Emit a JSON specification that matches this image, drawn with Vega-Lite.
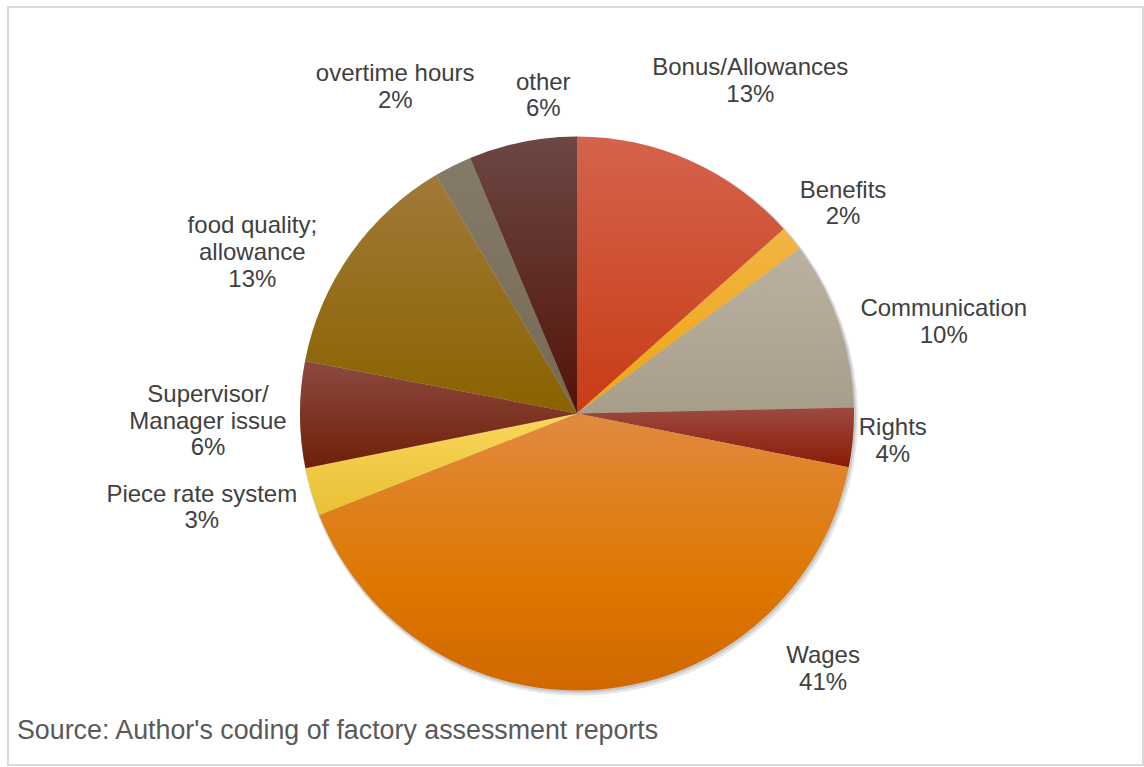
{
  "$schema": "https://vega.github.io/schema/vega-lite/v6.json",
  "autosize": "none",
  "width": 1135,
  "height": 758,
  "padding": {"left": 8, "top": 7, "right": 1, "bottom": 2},
  "background": "white",
  "view": {"stroke": "#D9D9D9", "strokeWidth": 2},
  "config": {
    "view": {"stroke": "#D9D9D9", "strokeWidth": 2},
    "font": "Liberation Sans"
  },
  "title": {
    "text": "Source: Author's coding of factory assessment reports",
    "orient": "bottom",
    "anchor": "start",
    "offset": -47,
    "dx": 9,
    "fontSize": 26.8,
    "font": "Liberation Sans",
    "fontWeight": "normal",
    "color": "#595959"
  },
  "data": {
    "values": [
      {"category": "Bonus/Allowances", "value": 13.4, "label": ["Bonus/Allowances", "13%"]},
      {"category": "Benefits", "value": 1.45, "label": ["Benefits", "2%"]},
      {"category": "Communication", "value": 9.8, "label": ["Communication", "10%"]},
      {"category": "Rights", "value": 3.45, "label": ["Rights", "4%"]},
      {"category": "Wages", "value": 40.9, "label": ["Wages", "41%"]},
      {"category": "Piece rate system", "value": 2.8, "label": ["Piece rate system", "3%"]},
      {"category": "Supervisor/ Manager issue", "value": 6.2, "label": ["Supervisor/", "Manager issue", "6%"]},
      {"category": "food quality; allowance", "value": 13.45, "label": ["food quality;", "allowance", "13%"]},
      {"category": "overtime hours", "value": 2.2, "label": ["overtime hours", "2%"]},
      {"category": "other", "value": 6.3, "label": ["other", "6%"]}
    ]
  },
  "encoding": {
    "theta": {"field": "value", "type": "quantitative", "stack": true}
  },
  "layer": [
    {
      "mark": {"type": "arc", "x": 571, "y": 409.5, "outerRadius": 279, "color": "#000000", "opacity": 0.1, "stroke": null}
    },
    {
      "mark": {"type": "arc", "x": 570, "y": 408, "outerRadius": 278, "color": "#000000", "opacity": 0.12, "stroke": null}
    },
    {
      "mark": {"type": "arc", "x": 569, "y": 406.5, "outerRadius": 277, "stroke": null},
      "encoding": {
        "fill": {
          "condition": [
            {"test": "datum.category === 'Bonus/Allowances'", "value": {"gradient": "linear", "x1": 0, "y1": 0, "x2": 0, "y2": 1, "stops": [{"offset": 0, "color": "#D4634D"}, {"offset": 1, "color": "#C83C14"}]}},
            {"test": "datum.category === 'Benefits'", "value": {"gradient": "linear", "x1": 0, "y1": 0, "x2": 0, "y2": 1, "stops": [{"offset": 0, "color": "#F2B444"}, {"offset": 1, "color": "#EFA510"}]}},
            {"test": "datum.category === 'Communication'", "value": {"gradient": "linear", "x1": 0, "y1": 0, "x2": 0, "y2": 1, "stops": [{"offset": 0, "color": "#BAB1A1"}, {"offset": 1, "color": "#A79E8A"}]}},
            {"test": "datum.category === 'Rights'", "value": {"gradient": "linear", "x1": 0, "y1": 0, "x2": 0, "y2": 1, "stops": [{"offset": 0, "color": "#9D4A40"}, {"offset": 1, "color": "#8A1A05"}]}},
            {"test": "datum.category === 'Wages'", "value": {"gradient": "linear", "x1": 0, "y1": 0, "x2": 0, "y2": 1, "stops": [{"offset": 0, "color": "#E18A40"}, {"offset": 0.6, "color": "#DE7800"}, {"offset": 1, "color": "#D06800"}]}},
            {"test": "datum.category === 'Piece rate system'", "value": {"gradient": "linear", "x1": 0, "y1": 0, "x2": 0, "y2": 1, "stops": [{"offset": 0, "color": "#FAD75A"}, {"offset": 1, "color": "#E8C034"}]}},
            {"test": "datum.category === 'Supervisor/ Manager issue'", "value": {"gradient": "linear", "x1": 0, "y1": 0, "x2": 0, "y2": 1, "stops": [{"offset": 0, "color": "#8D4A40"}, {"offset": 1, "color": "#6F1F08"}]}},
            {"test": "datum.category === 'food quality; allowance'", "value": {"gradient": "linear", "x1": 0, "y1": 0, "x2": 0, "y2": 1, "stops": [{"offset": 0, "color": "#A07A38"}, {"offset": 1, "color": "#8A6200"}]}},
            {"test": "datum.category === 'overtime hours'", "value": {"gradient": "linear", "x1": 0, "y1": 0, "x2": 0, "y2": 1, "stops": [{"offset": 0, "color": "#847A68"}, {"offset": 1, "color": "#746A54"}]}},
            {"test": "datum.category === 'other'", "value": {"gradient": "linear", "x1": 0, "y1": 0, "x2": 0, "y2": 1, "stops": [{"offset": 0, "color": "#6C4743"}, {"offset": 1, "color": "#521308"}]}}
          ],
          "value": "#999999"
        }
      }
    },
    {
      "mark": {
        "type": "text",
        "x": 569,
        "y": 406.5,
        "font": "Liberation Sans",
        "fontSize": 24,
        "lineHeight": 26.7,
        "color": "#404040",
        "align": "center",
        "baseline": "middle",
        "text": {"expr": "datum.label"},
        "radius": {"expr": "datum.category === 'Bonus/Allowances' ? 375 : datum.category === 'Benefits' ? 339 : datum.category === 'Communication' ? 377 : datum.category === 'Rights' ? 317 : datum.category === 'Wages' ? 280 : datum.category === 'Piece rate system' ? 386 : datum.category === 'Supervisor/ Manager issue' ? 370 : datum.category === 'food quality; allowance' ? 358 : datum.category === 'overtime hours' ? 374 : 319"},
        "dx": {"expr": "datum.category === 'Bonus/Allowances' ? 20 : datum.category === 'Benefits' ? 3 : datum.category === 'Communication' ? 10 : datum.category === 'Rights' ? 0 : datum.category === 'Wages' ? 221 : datum.category === 'Piece rate system' ? -5 : datum.category === 'Supervisor/ Manager issue' ? 1 : datum.category === 'food quality; allowance' ? -32 : datum.category === 'overtime hours' ? -14 : 29"},
        "dy": {"expr": "datum.category === 'Bonus/Allowances' ? -3 : datum.category === 'Benefits' ? -9 : datum.category === 'Communication' ? 17.5 : datum.category === 'Rights' ? -13 : datum.category === 'Wages' ? -36.5 : datum.category === 'Piece rate system' ? -28 : datum.category === 'Supervisor/ Manager issue' ? -20 : datum.category === 'food quality; allowance' ? 19 : datum.category === 'overtime hours' ? -5 : -18"}
      }
    }
  ]
}
